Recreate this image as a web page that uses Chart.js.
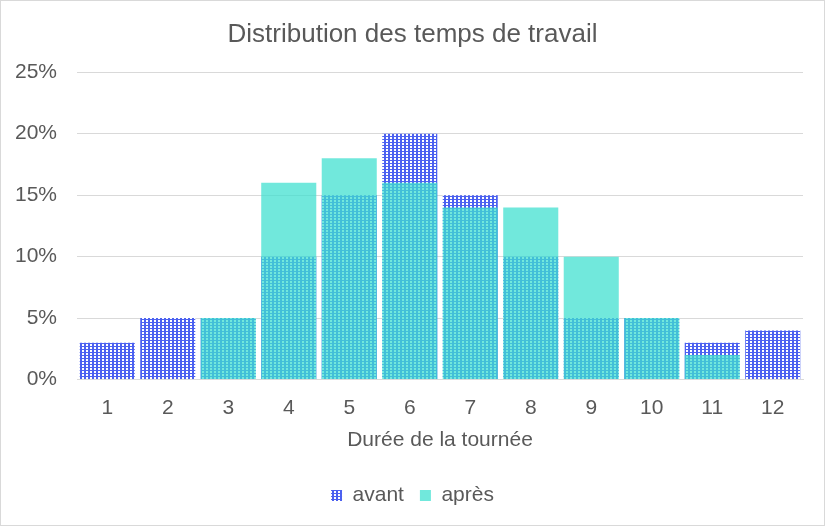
<!DOCTYPE html>
<html><head><meta charset="utf-8">
<script src="https://cdn.jsdelivr.net/npm/chart.js@4/dist/chart.umd.min.js"></script>
<style>
html,body{margin:0;padding:0;background:#fff;}
#wrap{width:823px;height:524px;border:1px solid #D9D9D9;}
</style></head>
<body><div id="wrap"><canvas id="c" width="823" height="524"></canvas></div>
<script>
const categories = ['1','2','3','4','5','6','7','8','9','10','11','12'];
const avant = [0.03,0.05,0.05,0.10,0.15,0.20,0.15,0.10,0.05,0.05,0.03,0.04];
const apres = [null,null,0.05,0.16,0.18,0.16,0.14,0.14,0.10,0.05,0.02,null];
const seriesNames = ['avant','après'];

function makePattern(){
  const p = document.createElement('canvas');
  p.width = 4; p.height = 3;
  const g = p.getContext('2d');
  g.fillStyle = 'rgb(76,97,240)';
  g.fillRect(0,0,4,3);
  g.fillStyle = '#ffffff';
  g.fillRect(1,1,2,2);
  return document.getElementById('c').getContext('2d').createPattern(p,'repeat');
}
const pat = makePattern();
const txt = '#595959';
Chart.defaults.font.family = 'Liberation Sans, Arial, sans-serif';

new Chart(document.getElementById('c'), {
  type: 'bar',
  data: {
    labels: categories,
    datasets: [
      {label: seriesNames[1], data: apres, backgroundColor: 'rgba(64,224,208,0.74)', grouped:false, barPercentage:0.91, categoryPercentage:1},
      {label: seriesNames[0], data: avant, backgroundColor: pat, grouped:false, barPercentage:0.91, categoryPercentage:1}
    ]
  },
  options: {
    responsive:false, animation:false, devicePixelRatio:1,
    layout:{padding:{left:10,right:10,top:8,bottom:9}},
    plugins:{
      title:{display:true,text:'Distribution des temps de travail',color:txt,font:{size:26,weight:'normal'},padding:{top:10,bottom:22}},
      legend:{position:'bottom',reverse:true,labels:{color:txt,font:{size:21},boxWidth:11,boxHeight:11,padding:16},
        onClick:null},
      tooltip:{enabled:false}
    },
    scales:{
      x:{grid:{display:false},border:{display:true,color:'#D9D9D9'},
         ticks:{color:txt,font:{size:21},padding:8},
         title:{display:true,text:'Durée de la tournée',color:txt,font:{size:21},padding:{top:-1,bottom:16}}},
      y:{min:0,max:0.25,grid:{color:'#D9D9D9',drawTicks:false},border:{display:false},
         afterFit:s=>{s.width=66;},
         ticks:{stepSize:0.05,color:txt,font:{size:21},padding:20,callback:v=>Math.round(v*100)+'%'}},
      yR:{position:'right',display:true,grid:{display:false},border:{display:false},
         ticks:{display:false},afterFit:s=>{s.width=11;}}
    }
  }
});
</script></body></html>
